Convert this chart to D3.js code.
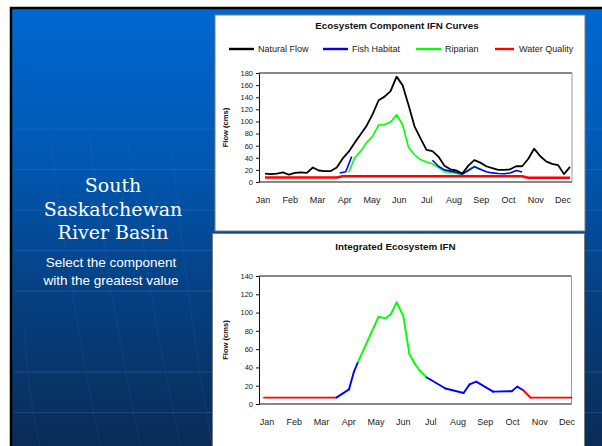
<!DOCTYPE html>
<html>
<head>
<meta charset="utf-8">
<script src="https://cdn.jsdelivr.net/npm/d3@7/dist/d3.min.js"></script>
<style>
  html, body { margin: 0; padding: 0; background: #ffffff; }
  svg { display: block; }
</style>
</head>
<body>
<svg id="slide" width="602" height="446"></svg>
<script>
// ---- Data (flows in cms, x in week-of-year) ----
const months = ["Jan", "Feb", "Mar", "Apr", "May", "Jun", "Jul", "Aug", "Sep", "Oct", "Nov", "Dec"];
const yTicksTop = [0, 20, 40, 60, 80, 100, 120, 140, 160, 180];
const yTicksBottom = [0, 20, 40, 60, 80, 100, 120, 140];

const naturalWeeks = [0, 1, 2, 3, 4, 5, 6, 7, 8, 9, 10, 11, 12, 13, 14, 15, 16, 17, 18, 19, 20, 21, 22, 23, 24, 25,
  26, 27, 28, 29, 30, 31, 32, 33, 34, 35, 36, 37, 38, 39, 40, 41, 42, 43, 44, 45, 46, 47, 48, 49, 50, 51];
const naturalFlow = [14, 13, 14, 16, 12, 15, 16, 15, 24, 19, 18, 18, 24, 39, 50, 65, 79, 93, 112, 135, 141, 150, 174, 160, 127, 92,
  72, 53, 51, 42, 27, 21, 19, 14, 27, 36, 32, 26, 23, 20, 20, 21, 26, 26, 38, 55, 43, 34, 30, 28, 13, 25];

const fishWeeks = [12.5, 13.5, 14.5, null, 28, 29, 30, 31, 32, 33, 34, 35, 36, 37, 38, 39, 40, 41, 42, 43];
const fishFlow = [15, 17, 42, null, 36, 26, 20, 18, 16, 13, 19, 25, 21, 17, 15, 14, 13.5, 15, 19, 16.5];

const riparianWeeks = [14, 15, 16, 17, 18, 19, 20, 21, 22, 23, 24, 25, 26, 27, 28, 29, 30, 31, 32, 33, 34, 35, 36];
const riparianFlow = [16, 40, 51, 65, 76, 94, 95, 99, 111, 95, 57, 45, 37, 33, 30, 24, 17, 16, 14, 13, 20, 26, 21];

const waterQualityWeeks = naturalWeeks;
const waterQualityFlow = [7.5, 7.5, 7.5, 7.5, 7.5, 7.5, 7.5, 7.5, 7.5, 7.5, 7.5, 7.5, 7.5,
  9.5, 9.5, 9.5, 9.5, 9.5, 9.5, 9.5, 9.5, 9.5, 9.5, 9.5, 9.5, 9.5, 9.5, 9.5, 9.5, 9.5, 9.5, 9.5, 9.5,
  9.5, 9.5, 9.5, 9.5, 9.5, 9.5, 9.5, 9.5, 9.5, 9.5, 9.5,
  7, 7, 7, 7, 7, 7, 7, 7];

// Integrated IFN: the governing component for each stretch of the year
const integratedWeeks = [0, 12, 14.1, 14.9, 15.6, 19, 20.1, 21, 22, 23.1, 24.1, 25, 25.9, 27, 30.1, 33.1, 34.1, 35.2, 38, 41.1, 42, 43, 44.2, 51];
const integratedFlow = [7, 7, 16, 35, 46, 95.5, 93.7, 98, 111, 96.5, 55, 44, 36, 29, 17, 12, 21.5, 24.4, 13.5, 14, 19, 15, 7, 7];
// component governing each segment (point k -> k+1)
const integratedSource = ["Water Quality",
  "Fish Habitat", "Fish Habitat", "Fish Habitat",
  "Riparian", "Riparian", "Riparian", "Riparian", "Riparian", "Riparian", "Riparian", "Riparian", "Riparian",
  "Fish Habitat", "Fish Habitat", "Fish Habitat", "Fish Habitat", "Fish Habitat", "Fish Habitat", "Fish Habitat", "Fish Habitat",
  "Water Quality", "Water Quality"];

const seriesNames = ["Natural Flow", "Fish Habitat", "Riparian", "Water Quality"];
const seriesColors = ["#000000", "#0000ff", "#00ff00", "#ff0000"];

// ---- Slide background ----
const svg = d3.select("#slide");
const color = d3.scaleOrdinal(seriesNames, seriesColors);

const defs = svg.append("defs");
const grad = defs.append("linearGradient").attr("id", "bg").attr("x1", 0).attr("y1", 0).attr("x2", 0).attr("y2", 1);
grad.append("stop").attr("offset", "0%").attr("stop-color", "#0068d2");
grad.append("stop").attr("offset", "35%").attr("stop-color", "#0057b0");
grad.append("stop").attr("offset", "65%").attr("stop-color", "#063f80");
grad.append("stop").attr("offset", "100%").attr("stop-color", "#0a2a52");

svg.append("rect").attr("x", 11).attr("y", 8).attr("width", 600).attr("height", 450)
  .attr("fill", "url(#bg)").attr("stroke", "#000").attr("stroke-width", 2.5);

// faint grid of the backdrop
const deco = svg.append("g").attr("fill", "none").attr("stroke", "#3c84e0").attr("stroke-width", 0.8);
[129, 169.5, 210, 250.5, 291, 372, 412.5].forEach(y => {
  deco.append("line").attr("x1", 14).attr("x2", 602).attr("y1", y).attr("y2", y).attr("stroke-opacity", 0.4);
});
[[25, 330, 40], [50, 135, 100], [88, 130, 140], [128, 140, 180], [172, 150, 212], [590, 120, 560]].forEach(([x0, y0, x1]) => {
  deco.append("path").attr("d", `M${x0},${y0} Q${(x0 + x1) / 2 - 6},${(y0 + 446) / 2} ${x1},446`).attr("stroke-opacity", 0.18);
});

// ---- Left caption ----
const cap = svg.append("g").attr("fill", "#ffffff").attr("text-anchor", "middle");
cap.selectAll("text.head").data(["South", "Saskatchewan", "River Basin"]).join("text")
  .attr("class", "head")
  .attr("x", 113).attr("y", (d, i) => 192 + i * 23.5)
  .style("font-family", "'DejaVu Serif', serif").style("font-size", "19px")
  .text(d => d);
cap.selectAll("text.sub").data(["Select the component", "with the greatest value"]).join("text")
  .attr("class", "sub")
  .attr("x", 111).attr("y", (d, i) => 267 + i * 17.5)
  .style("font-family", "'Liberation Sans', Arial, sans-serif").style("font-size", "13.5px")
  .text(d => d);

// ---- Chart panels ----
const sans = "'Liberation Sans', Arial, sans-serif";

function panel(box, plot, yMax, yTicks, monthRange, title, titleY) {
  const g = svg.append("g");
  g.append("rect").attr("x", box.x).attr("y", box.y).attr("width", box.w).attr("height", box.h)
    .attr("fill", "#ffffff").attr("stroke", "#7a7a7a").attr("stroke-width", 1);

  const x = d3.scaleLinear().domain([0, 51]).range([plot.x0 + plot.pad0, plot.x1 - plot.pad1]);
  const y = d3.scaleLinear().domain([0, yMax]).range([plot.y1, plot.y0]);

  // plot frame
  g.append("line").attr("x1", plot.x0).attr("x2", plot.x1).attr("y1", plot.y0).attr("y2", plot.y0).attr("stroke", "#111");
  g.append("line").attr("x1", plot.x1).attr("x2", plot.x1).attr("y1", plot.y0).attr("y2", plot.y1).attr("stroke", "#999");

  const ax = g.append("g").attr("transform", `translate(${plot.x0},0)`)
    .call(d3.axisLeft(y).tickValues(yTicks).tickSize(3).tickPadding(3).tickSizeOuter(0));
  ax.select(".domain").attr("stroke", "#111");
  ax.selectAll(".tick line").attr("stroke", "#111");
  ax.selectAll("text").style("font-family", sans).style("font-size", "7.5px").attr("fill", "#222");

  g.append("line").attr("x1", plot.x0).attr("x2", plot.x1).attr("y1", plot.y1).attr("y2", plot.y1)
    .attr("stroke", "#111").attr("stroke-width", 1.2);

  const mx = d3.scalePoint(months, monthRange);
  g.append("g").selectAll("text").data(months).join("text")
    .attr("x", d => mx(d)).attr("y", plot.y1 + 21)
    .attr("text-anchor", "middle").style("font-family", sans).style("font-size", "9px").attr("fill", "#222")
    .text(d => d);

  g.append("text").attr("transform", `translate(228,${(plot.y0 + plot.y1) / 2}) rotate(-90)`)
    .attr("text-anchor", "middle").style("font-family", sans).style("font-size", "7.6px").style("font-weight", "bold")
    .attr("fill", "#111").text("Flow (cms)");

  g.append("text").attr("x", (box.x + box.x + box.w) / 2 - 3).attr("y", titleY)
    .attr("text-anchor", "middle").style("font-family", sans).style("font-size", "9.8px").style("font-weight", "bold")
    .attr("fill", "#111").text(title);

  return { g, x, y };
}

// Top: component curves
const curvesChart = panel({ x: 215, y: 15, w: 370, h: 216 }, { x0: 259, x1: 572, y0: 73, y1: 182, pad0: 6, pad1: 2 },
  180, yTicksTop, [263, 563], "Ecosystem Component IFN Curves", 28.5);

const curveLine = (weeks) => d3.line()
  .defined((d, i) => d !== null && weeks[i] !== null)
  .x((d, i) => curvesChart.x(weeks[i])).y(d => curvesChart.y(d));

const componentSeries = [
  { name: "Water Quality", weeks: waterQualityWeeks, values: waterQualityFlow, w: 2.6 },
  { name: "Riparian", weeks: riparianWeeks, values: riparianFlow, w: 1.6 },
  { name: "Fish Habitat", weeks: fishWeeks, values: fishFlow, w: 1.6 },
  { name: "Natural Flow", weeks: naturalWeeks, values: naturalFlow, w: 1.8 }
];
curvesChart.g.append("g").selectAll("path").data(componentSeries).join("path")
  .attr("fill", "none").attr("stroke", d => color(d.name)).attr("stroke-width", d => d.w)
  .attr("stroke-linejoin", "round")
  .attr("d", d => curveLine(d.weeks)(d.values));

// legend
const legendX = [229, 323, 416, 495];
const legend = curvesChart.g.append("g").selectAll("g").data(seriesNames).join("g")
  .attr("transform", (d, i) => `translate(${legendX[i]},49)`);
legend.append("line").attr("x1", 0).attr("x2", d => d === "Water Quality" ? 19 : 25).attr("y1", 0).attr("y2", 0)
  .attr("stroke", d => color(d)).attr("stroke-width", 2.4);
legend.append("text").attr("x", d => d === "Water Quality" ? 24 : 29).attr("y", 3.3)
  .style("font-family", sans).style("font-size", "9px").attr("fill", "#222").text(d => d);

// Bottom: integrated IFN
const integratedChart = panel({ x: 212.5, y: 233.5, w: 372, h: 220 }, { x0: 259, x1: 571.5, y0: 276, y1: 404, pad0: 5, pad1: 0 },
  140, yTicksBottom, [267, 567], "Integrated Ecosystem IFN", 250);

const segs = integratedSource.map((src, k) => ({
  src, a: [integratedWeeks[k], integratedFlow[k]], b: [integratedWeeks[k + 1], integratedFlow[k + 1]]
}));
integratedChart.g.append("g").selectAll("line").data(segs).join("line")
  .attr("x1", d => integratedChart.x(d.a[0])).attr("y1", d => integratedChart.y(d.a[1]))
  .attr("x2", d => integratedChart.x(d.b[0])).attr("y2", d => integratedChart.y(d.b[1]))
  .attr("stroke", d => color(d.src)).attr("stroke-width", 1.9).attr("stroke-linecap", "round");
</script>
</body>
</html>
